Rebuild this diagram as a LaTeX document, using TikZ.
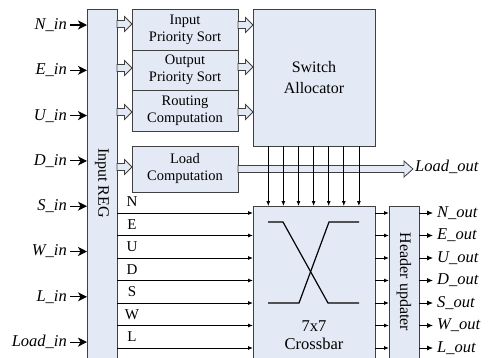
\documentclass[tikz,border=0pt]{standalone}
\usepackage{fontspec}
\setmainfont{Liberation Serif}
\usetikzlibrary{arrows.meta,calc,positioning}

\definecolor{boxfill}{RGB}{228,234,245}
\definecolor{boxline}{RGB}{64,64,64}

\tikzset{
  box/.style={draw=boxline, fill=boxfill, line width=0.9pt, inner sep=0pt, outer sep=0pt,
              align=center, font=\fontsize{14.5}{17}\selectfont},
  sig/.style={line width=0.8pt, -{Latex[length=5pt,width=4pt]}},
  outsig/.style={line width=0.8pt, -{Latex[length=6pt,width=5pt]}},
  pin/.style={line width=1.1pt, -{Stealth[length=9pt,width=9pt,inset=2.5pt]}},
  fat/.style={draw=boxline, fill=boxfill, line width=0.8pt},
  port/.style={font=\fontsize{16.5}{18}\selectfont\itshape},
  lane/.style={font=\fontsize{15}{17}\selectfont, inner sep=0pt},
}

% hollow block arrow between two anchors at height #3
\newcommand{\fatarrow}[3]{%
  \draw[fat] let \p1=(#1), \p2=(#2), \p3=(0,#3) in
    (\x1,\y3+3.5pt) -- (\x2-7.5pt,\y3+3.5pt) -- (\x2-7.5pt,\y3+7.5pt) -- (\x2,\y3)
    -- (\x2-7.5pt,\y3-7.5pt) -- (\x2-7.5pt,\y3-3.5pt) -- (\x1,\y3-3.5pt) -- cycle;}

\begin{document}
\begin{tikzpicture}[x=1pt,y=-1pt]
  \useasboundingbox (0,0) rectangle (491,357);
  \clip (0,0) rectangle (491,357);

  % input register column
  \node[box, minimum width=30, minimum height=352.5] (inreg) at (102,185.75) {};
  \node[rotate=-90, font=\fontsize{16}{18}\selectfont] (inreglabel) at (102,183) {Input REG};

  % control blocks
  \node[box, minimum width=106, minimum height=40.5] (ips) at (185,29.75) {Input\\Priority Sort};
  \node[box, minimum width=106, minimum height=40, below=0pt of ips] (ops) {Output\\Priority Sort};
  \node[box, minimum width=106, minimum height=41, below=0pt of ops] (rc) {Routing\\Computation};
  \node[box, minimum width=106, minimum height=46] (lc) at (185,169) {Load\\Computation};
  \node[box, minimum width=122, minimum height=136.5, font=\fontsize{16}{21}\selectfont] (sa) at (314,77.75) {Switch\\Allocator};

  % datapath
  \node[box, minimum width=122, minimum height=156] (xbar) at (314,284) {};
  \node[align=center, font=\fontsize{16.5}{18}\selectfont] (xbarlabel) at (314,335) {7x7\\Crossbar};
  \node[box, minimum width=30, minimum height=156] (hdr) at (404,284) {};
  \node[rotate=-90, font=\fontsize{16}{18}\selectfont] (hdrlabel) at (404,282) {Header updater};

  % crossing inside the crossbar
  \draw[line width=1.2pt] (268,222) -- (283,222) -- (328,303) -- (359,303);
  \draw[line width=1.2pt] (359,222) -- (329,222) -- (299,303) -- (268,303);

  % router inputs
  \foreach \d [count=\i from 0] in {N,E,U,D,S,W,L,Load} {
    \node[port, anchor=east, inner sep=3pt] (in-\d) at (70,{25+45.3*\i}) {\d\_in};
    \draw[pin] (in-\d.east) -- (in-\d.east -| inreg.west);
  }

  % block arrows
  \fatarrow{inreg.east}{ips.west}{24}
  \fatarrow{inreg.east}{ops.west}{68}
  \fatarrow{inreg.east}{rc.west}{112}
  \fatarrow{inreg.east}{lc.west}{167}
  \fatarrow{ips.east}{sa.west}{25}
  \fatarrow{ops.east}{sa.west}{67}
  \fatarrow{rc.east}{sa.west}{112}
  \node[port, anchor=west, inner sep=2pt] (loadout) at (413,167) {Load\_out};
  \draw[fat] let \p1=(lc.east), \p2=(loadout.west) in
    (\x1,\y1+3.5pt) -- (\x2-9pt,\y1+3.5pt) -- (\x2-9pt,\y1+8pt) -- (\x2,\y1)
    -- (\x2-9pt,\y1-8pt) -- (\x2-9pt,\y1-3.5pt) -- (\x1,\y1-3.5pt) -- cycle;

  % grant lines from the allocator
  \foreach \i in {0,...,6} {
    \coordinate (grant-\i) at ({268.3+15.1*\i},0);
    \draw[sig] (sa.south -| grant-\i) -- (xbar.north -| grant-\i);
  }

  % lanes into the crossbar and outputs
  \foreach \d [count=\i from 0] in {N,E,U,D,S,W,L} {
    \coordinate (lane-\d) at (0,{213+22.5*\i});
    \draw[sig] (inreg.east |- lane-\d) -- (xbar.west |- lane-\d);
    \node[lane] (lanelabel-\d) at ($(inreg.east |- lane-\d)+(15,-11)$) {\d};
    \draw[sig] (xbar.east |- lane-\d) -- (hdr.west |- lane-\d);
    \node[port, anchor=west, inner sep=4pt] (out-\d) at (433,{213+22.5*\i}) {\d\_out};
    \draw[outsig] (hdr.east |- out-\d.west) -- (out-\d.west);
  }
\end{tikzpicture}
\end{document}
